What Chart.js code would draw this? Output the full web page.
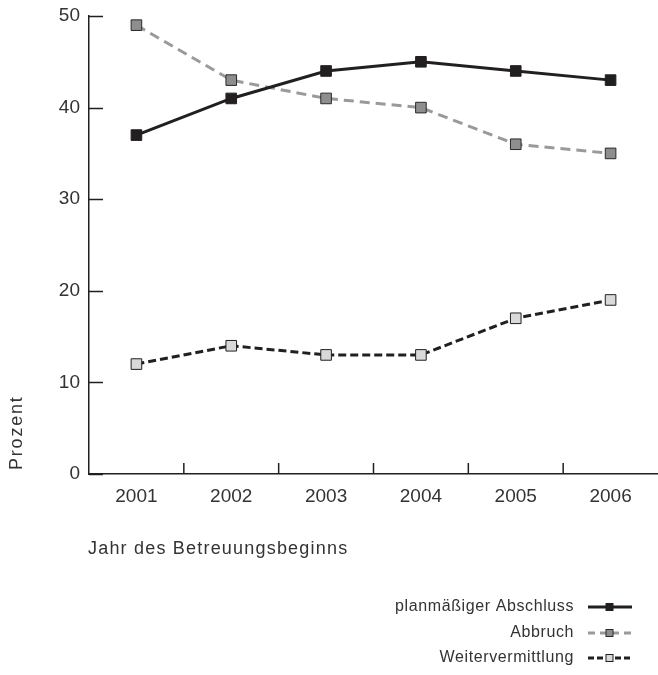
<!DOCTYPE html>
<html>
<head>
<meta charset="utf-8">
<script src="https://cdn.jsdelivr.net/npm/chart.js@4.4.1/dist/chart.umd.min.js"></script>
<style>
  html, body { margin: 0; padding: 0; background: #fff; }
  #wrap { width: 658px; height: 675px; position: relative; }
</style>
</head>
<body>
<div id="wrap"><canvas id="chart"></canvas></div>
<script>
const years = ['2001', '2002', '2003', '2004', '2005', '2006'];
const planmaessig = [37, 41, 44, 45, 44, 43];
const abbruch = [49, 43, 41, 40, 36, 35];
const weiter = [12, 14, 13, 13, 17, 19];
const yTicks = [0, 10, 20, 30, 40, 50];

const seriesNames = ['planmäßiger Abschluss', 'Abbruch', 'Weitervermittlung'];

const FONT = '"Liberation Sans", Arial, sans-serif';
const TEXT = '#333';
const INK = '#231f20';

// Achsenticks nach innen, Titel und Legende
const extras = {
    id: 'extras',
    afterDraw(chart) {
        const { ctx, chartArea, scales } = chart;
        const x = scales.x, y = scales.y;
        ctx.save();
        ctx.strokeStyle = INK;
        ctx.lineWidth = 1.5;
        yTicks.forEach(v => {
            const py = Math.round(y.getPixelForValue(v)) + 0.5;
            ctx.beginPath();
            ctx.moveTo(chartArea.left, py);
            ctx.lineTo(chartArea.left + 14, py);
            ctx.stroke();
        });
        for (let i = 0; i < years.length - 1; i++) {
            const px = (x.getPixelForValue(i) + x.getPixelForValue(i + 1)) / 2;
            ctx.beginPath();
            ctx.moveTo(px, chartArea.bottom);
            ctx.lineTo(px, chartArea.bottom - 11);
            ctx.stroke();
        }

        ctx.fillStyle = TEXT;
        ctx.textBaseline = 'middle';
        ctx.textAlign = 'left';
        ctx.font = '18px ' + FONT;
        ctx.letterSpacing = '1.2px';
        ctx.fillText('Jahr des Betreuungsbeginns', chartArea.left - 1, 549);

        ctx.save();
        ctx.letterSpacing = '1.8px';
        ctx.translate(17, 470);
        ctx.rotate(-Math.PI / 2);
        ctx.fillText('Prozent', 0, 0);
        ctx.restore();

        // Legende
        const rows = [607, 633, 658];
        ctx.textAlign = 'right';
        chart.data.datasets.forEach((ds, i) => {
            const ry = rows[i];
            ctx.fillStyle = TEXT;
            ctx.font = '16px ' + FONT;
            ctx.letterSpacing = '0.6px';
            ctx.fillText(seriesNames[i], 574, ry);
            ctx.strokeStyle = ds.borderColor;
            ctx.lineWidth = 3;
            ctx.setLineDash(i === 0 ? [] : (i === 1 ? [7, 5] : [6, 3]));
            ctx.beginPath();
            ctx.moveTo(588, ry);
            ctx.lineTo(632, ry);
            ctx.stroke();
            ctx.setLineDash([]);
            ctx.fillStyle = ds.pointBackgroundColor;
            ctx.strokeStyle = ds.pointBorderColor;
            ctx.lineWidth = 1;
            ctx.fillRect(606, ry - 3.5, 7, 7);
            ctx.strokeRect(606, ry - 3.5, 7, 7);
        });
        ctx.restore();
    }
};

new Chart(document.getElementById('chart'), {
    type: 'line',
    data: {
        labels: years,
        datasets: [
            {
                label: seriesNames[0],
                data: planmaessig,
                borderColor: INK,
                borderWidth: 3,
                pointStyle: 'rect',
                pointRadius: 7.5,
                pointBackgroundColor: INK,
                pointBorderColor: INK,
                pointBorderWidth: 1
            },
            {
                label: seriesNames[1],
                data: abbruch,
                borderColor: '#9a9a9a',
                borderWidth: 3,
                borderDash: [10, 6],
                pointStyle: 'rect',
                pointRadius: 7.5,
                pointBackgroundColor: '#8e8e8e',
                pointBorderColor: '#2a2a2a',
                pointBorderWidth: 1
            },
            {
                label: seriesNames[2],
                data: weiter,
                borderColor: INK,
                borderWidth: 3,
                borderDash: [8, 4],
                pointStyle: 'rect',
                pointRadius: 7.5,
                pointBackgroundColor: '#d9d9d9',
                pointBorderColor: INK,
                pointBorderWidth: 1
            }
        ]
    },
    options: {
        responsive: true,
        maintainAspectRatio: false,
        animation: false,
        layout: { autoPadding: false, padding: { top: 16, right: 0, left: 0, bottom: 0 } },
        plugins: {
            legend: { display: false },
            tooltip: { enabled: false }
        },
        scales: {
            x: {
                offset: true,
                grid: { display: false, drawTicks: false },
                border: { display: true, color: INK, width: 1.5 },
                ticks: { color: TEXT, font: { family: FONT, size: 19 }, padding: 11 },
                afterFit: s => { s.height = 675 - 474; s.paddingLeft = 0; s.paddingRight = 0; }
            },
            y: {
                min: 0,
                max: 50,
                grid: { display: false, drawTicks: false },
                border: { display: true, color: INK, width: 1.5 },
                ticks: { stepSize: 10, color: TEXT, font: { family: FONT, size: 19 }, padding: 9 },
                afterFit: s => { s.width = 89; s.paddingTop = 0; s.paddingBottom = 0; }
            }
        }
    },
    plugins: [extras]
});
</script>
</body>
</html>
